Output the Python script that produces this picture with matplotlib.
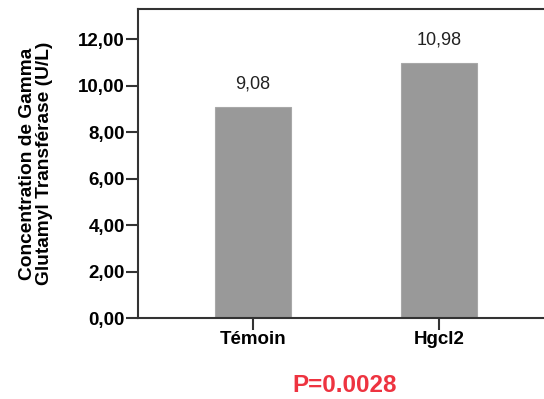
import matplotlib.pyplot as plt
import numpy as np

groupes = ["Témoin", "Hgcl2"]
moyennes = [9.08, 10.98]
yticks = [0, 2, 4, 6, 8, 10, 12]

plt.rcParams['font.family'] = ['Liberation Sans', 'DejaVu Sans']

fig = plt.figure(figsize=(5.44, 3.99), dpi=100)
ax = fig.add_axes([0.2537, 0.203, 0.746, 0.7744])

x = np.arange(len(groupes))
ax.bar(x, moyennes, width=0.41, color="#999999", edgecolor="#a8a8a8", linewidth=0.8, zorder=2)

for xi, v in zip(x, moyennes):
    ax.text(xi, v + 0.6, f"{v:.2f}".replace(".", ","), ha="center", va="bottom",
            fontsize=13, color="#222222")

ax.set_xlim(-0.618, 1.565)
ax.set_ylim(0, 13.29)
ax.set_xticks(x)
ax.set_xticklabels(groupes, fontsize=13.5, fontweight="bold")
ax.set_yticks(yticks)
ax.set_yticklabels([f"{t:.2f}".replace(".", ",") for t in yticks], fontsize=13.5, fontweight="bold")
ax.tick_params(axis="both", direction="out", length=8.5, width=1.5, color="#333333", pad=1)

for s in ["left", "bottom", "top"]:
    ax.spines[s].set_linewidth(1.5)
    ax.spines[s].set_color("#333333")
ax.spines["right"].set_visible(False)

ax.set_ylabel("Concentration de Gamma\nGlutamyl Transférase (U/L)", fontsize=13.8,
              fontweight="bold", labelpad=18, linespacing=1.0)

fig.text(0.634, 0.035, "P=0.0028", color="#ee3340", fontsize=17.5, fontweight="bold",
         ha="center", va="center")

fig.savefig("out.png", dpi=100)
